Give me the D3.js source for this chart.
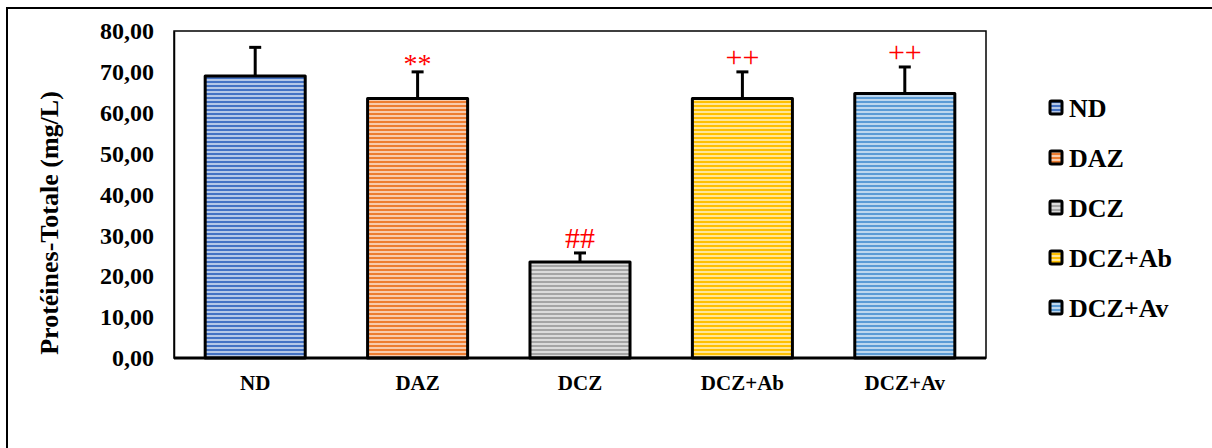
<!DOCTYPE html>
<html>
<head>
<meta charset="utf-8">
<script src="https://cdn.jsdelivr.net/npm/d3@7"></script>
<style>
  html, body { margin: 0; padding: 0; background: #fff; }
  svg { display: block; }
  text { font-family: "Liberation Serif", "Times New Roman", serif; font-weight: bold; }
</style>
</head>
<body>
<svg id="chart" width="1212" height="448"></svg>
<script>
// Total protein per group (mg/L), mean and standard deviation
const groups = ["ND", "DAZ", "DCZ", "DCZ+Ab", "DCZ+Av"];
const means = [69.0, 63.5, 23.5, 63.5, 64.7];
const errors = [7.0, 6.5, 2.2, 6.5, 6.5];
const marks = ["", "**", "##", "++", "++"];
const colors = ["#4472C4", "#ED7D31", "#A5A5A5", "#FFC000", "#5B9BD5"];
const yTicks = [0, 10, 20, 30, 40, 50, 60, 70, 80];

const svg = d3.select("#chart");
const plot = { left: 174, top: 31, right: 986, bottom: 358 };
const serif = "'Liberation Serif', 'Times New Roman', serif";

// Striped fills, one per group colour
const defs = svg.append("defs");
colors.forEach((c, i) => {
  const p = defs.append("pattern")
    .attr("id", "stripe" + i)
    .attr("patternUnits", "userSpaceOnUse")
    .attr("width", 8).attr("height", 4);
  p.append("rect").attr("width", 8).attr("height", 4)
    .attr("fill", d3.interpolateRgb(c, "#ffffff")(0.6));
  p.append("rect").attr("y", 1).attr("width", 8).attr("height", 2).attr("fill", c);
});

// Outer frame
svg.append("rect")
  .attr("x", 7).attr("y", 8).attr("width", 1230).attr("height", 470)
  .attr("fill", "none").attr("stroke", "#000").attr("stroke-width", 2);

const x = d3.scaleBand().domain(groups).range([plot.left, plot.right]).paddingInner(0.384).paddingOuter(0.192);
const y = d3.scaleLinear().domain([0, 80]).range([plot.bottom, plot.top]);

// Plot area border
svg.append("rect")
  .attr("x", plot.left).attr("y", plot.top)
  .attr("width", plot.right - plot.left).attr("height", plot.bottom - plot.top)
  .attr("fill", "none").attr("stroke", "#000").attr("stroke-width", 1.5);

// Y axis labels
const yAxis = d3.axisLeft(y).tickValues(yTicks).tickSize(0).tickPadding(20)
  .tickFormat(d => d3.format(".2f")(d).replace(".", ","));
const ya = svg.append("g").attr("transform", `translate(${plot.left},0)`).call(yAxis);
ya.select(".domain").attr("stroke", "#000").attr("stroke-width", 1.5);
ya.selectAll("text").attr("font-size", 24).attr("fill", "#000")
  .style("font-family", serif).style("font-weight", "bold");

// X axis labels
const xAxis = d3.axisBottom(x).tickSize(0).tickPadding(17);
const xa = svg.append("g").attr("transform", `translate(0,${plot.bottom})`).call(xAxis);
xa.select(".domain").remove();
xa.selectAll("text").attr("font-size", 21).attr("fill", "#000")
  .style("font-family", serif).style("font-weight", "bold");

// Bars
svg.append("g").selectAll("rect").data(groups).join("rect")
  .attr("x", d => x(d))
  .attr("y", (d, i) => y(means[i]))
  .attr("width", x.bandwidth())
  .attr("height", (d, i) => y(0) - y(means[i]))
  .attr("fill", (d, i) => `url(#stripe${i})`)
  .attr("stroke", "#000").attr("stroke-width", 3).attr("stroke-linejoin", "round");

// Error bars (upper only)
const eb = svg.append("g").attr("stroke", "#000").attr("stroke-width", 3);
groups.forEach((g, i) => {
  const cx = x(g) + x.bandwidth() / 2;
  eb.append("line").attr("x1", cx).attr("x2", cx)
    .attr("y1", y(means[i])).attr("y2", y(means[i] + errors[i]));
  eb.append("line").attr("x1", cx - 6).attr("x2", cx + 6)
    .attr("y1", y(means[i] + errors[i])).attr("y2", y(means[i] + errors[i]));
});

// Bottom axis line drawn over the bars
svg.append("line")
  .attr("x1", plot.left).attr("x2", plot.right)
  .attr("y1", plot.bottom).attr("y2", plot.bottom)
  .attr("stroke", "#000").attr("stroke-width", 3);

// Significance marks above the error bars
svg.append("g").selectAll("text").data(groups).join("text")
  .attr("x", d => x(d) + x.bandwidth() / 2)
  .attr("y", (d, i) => y(means[i] + errors[i]) - 5)
  .attr("dy", (d, i) => marks[i] === "**" ? 6 : 0)
  .attr("text-anchor", "middle")
  .attr("font-size", (d, i) => marks[i] === "**" ? 28 : 30)
  .style("font-weight", "normal")
  .attr("fill", "#FF0000")
  .text((d, i) => marks[i]);

// Y axis title
svg.append("text")
  .attr("transform", "translate(58,223) rotate(-90)")
  .attr("text-anchor", "middle")
  .attr("font-size", 26).attr("fill", "#000")
  .text("Protéines-Totale (mg/L)");

// Legend
const lg = svg.append("g");
groups.forEach((g, i) => {
  const ly = 108 + i * 50;
  lg.append("rect").attr("x", 1050).attr("y", ly - 7).attr("width", 12).attr("height", 13)
    .attr("fill", `url(#stripe${i})`).attr("stroke", "#000").attr("stroke-width", 3)
    .attr("rx", 1.5);
  lg.append("text").attr("x", 1069).attr("y", ly + 9)
    .attr("font-size", 26).attr("fill", "#000").text(g);
});
</script>
</body>
</html>
